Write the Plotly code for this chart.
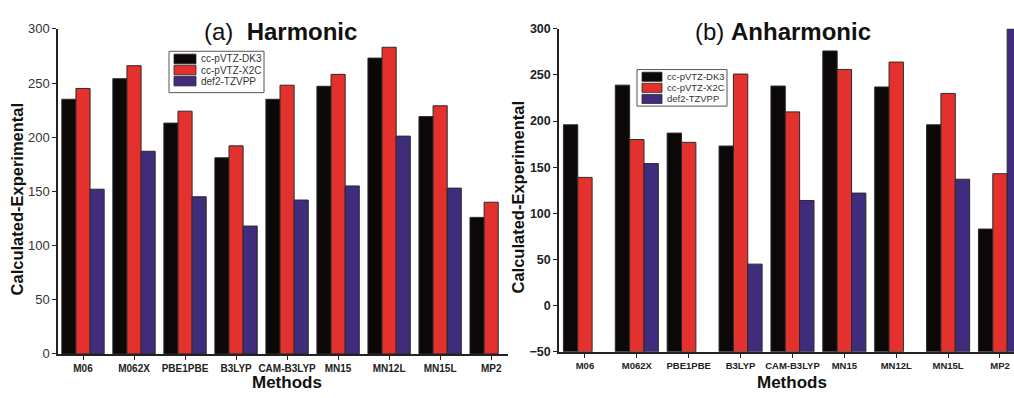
import plotly.graph_objects as go

methods = ["M06", "M062X", "PBE1PBE", "B3LYP", "CAM-B3LYP", "MN15", "MN12L", "MN15L", "MP2"]
series_names = ["cc-pVTZ-DK3", "cc-pVTZ-X2C", "def2-TZVPP"]

harm_dk3 = [235, 254, 213, 181, 235, 247, 273, 219, 126]
harm_x2c = [245, 266, 224, 192, 248, 258, 283, 229, 140]
harm_def2 = [152, 187, 145, 118, 142, 155, 201, 153, None]

anh_dk3 = [196, 239, 187, 173, 238, 276, 237, 196, 83]
anh_x2c = [139, 180, 177, 251, 210, 256, 264, 230, 143]
anh_def2 = [None, 154, None, 45, 114, 122, None, 137, 300]

colors = ["#0b0807", "#e5312d", "#3f2c7d"]
FONT = "Arial, Liberation Sans, sans-serif"
W, H = 1014, 398
ANH_BASE = -50

fig = go.Figure()

for name, vals, col in zip(series_names, [harm_dk3, harm_x2c, harm_def2], colors):
    fig.add_trace(go.Bar(
        x=methods, y=vals, name=name, xaxis="x", yaxis="y",
        marker=dict(color=col, line=dict(color="#2a2a2a", width=1)),
        showlegend=False,
    ))

for name, vals, col in zip(series_names, [anh_dk3, anh_x2c, anh_def2], colors):
    fig.add_trace(go.Bar(
        x=methods,
        y=[None if v is None else v - ANH_BASE for v in vals],
        base=ANH_BASE,
        customdata=vals,
        hovertemplate="%{x}: %{customdata}<extra>" + name + "</extra>",
        name=name, xaxis="x2", yaxis="y2",
        marker=dict(color=col, line=dict(color="#2a2a2a", width=1)),
        showlegend=False,
    ))

def px_x(p):
    return p / W

def px_y(p):
    return 1 - p / H

axis_common = dict(showline=True, linecolor="#222", linewidth=1.5, ticks="outside",
                   ticklen=4, tickcolor="#222", showgrid=False, zeroline=False)

fig.update_layout(
    width=W, height=H, autosize=False,
    margin=dict(l=0, r=0, t=0, b=0),
    paper_bgcolor="white", plot_bgcolor="white",
    barmode="group", bargap=0.17, bargroupgap=0,
    font=dict(family=FONT, color="#222"),
    showlegend=False,
    xaxis=dict(domain=[px_x(58), px_x(508)], range=[-0.49, 8.33], anchor="y",
               tickfont=dict(size=10, family=FONT, color="#222", weight="bold"), **axis_common),
    yaxis=dict(domain=[px_y(360.5), px_y(22.7)], range=[0, 300], dtick=50, anchor="x",
               tickfont=dict(size=13, family=FONT, color="#333"), **axis_common),
    xaxis2=dict(domain=[px_x(559), 1.0], range=[-0.5, 8.27], anchor="y2",
                tickfont=dict(size=9.5, family=FONT, color="#222", weight="bold"), **axis_common),
    yaxis2=dict(domain=[px_y(358.3), px_y(22.7)], range=[-50, 300], dtick=50, anchor="x2",
                tickfont=dict(size=12.5, family=FONT, color="#222", weight="bold"), **axis_common),
)

annos = [
    dict(text="(a)&nbsp;&nbsp;<b>Harmonic</b>", x=280, y=25, size=24),
    dict(text="(b) <b>Anharmonic</b>", x=783, y=25, size=24),
    dict(text="<b>Calculated-Experimental</b>", x=17, y=200, size=16.5, angle=-90),
    dict(text="<b>Calculated-Experimental</b>", x=518, y=198, size=16.5, angle=-90),
    dict(text="<b>Methods</b>", x=287, y=390, size=17),
    dict(text="<b>Methods</b>", x=792, y=390, size=17),
]
for a in annos:
    fig.add_annotation(xref="paper", yref="paper", showarrow=False,
                       xanchor="center", yanchor="middle",
                       x=px_x(a["x"]), y=px_y(a["y"]), text=a["text"],
                       textangle=a.get("angle", 0),
                       font=dict(family=FONT, color="#111", size=a["size"]))

# Hand-drawn legends (compact boxes as in the reference)
legend_specs = [
    dict(box=(169, 46, 264, 89), sw_x=(174, 196), rows=(54, 65.5, 77), sw_h=10, tx=199, fs=10),
    dict(box=(637, 65, 727, 103), sw_x=(642, 662), rows=(72.5, 84, 95.5), sw_h=9.5, tx=665, fs=9.5),
]
for spec in legend_specs:
    x0, y0, x1, y1 = spec["box"]
    fig.add_shape(type="rect", xref="paper", yref="paper",
                  x0=px_x(x0), x1=px_x(x1), y0=px_y(y1), y1=px_y(y0),
                  line=dict(color="#555", width=1), fillcolor="white", layer="above")
    for name, col, cy in zip(series_names, colors, spec["rows"]):
        h = spec["sw_h"] / 2
        fig.add_shape(type="rect", xref="paper", yref="paper",
                      x0=px_x(spec["sw_x"][0]), x1=px_x(spec["sw_x"][1]),
                      y0=px_y(cy + h), y1=px_y(cy - h),
                      line=dict(color="#2a2a2a", width=0.8), fillcolor=col, layer="above")
        fig.add_annotation(xref="paper", yref="paper", showarrow=False,
                           xanchor="left", yanchor="middle",
                           x=px_x(spec["tx"]), y=px_y(cy), text=name,
                           font=dict(family=FONT, color="#333", size=spec["fs"]))

fig.write_html("out.html")
